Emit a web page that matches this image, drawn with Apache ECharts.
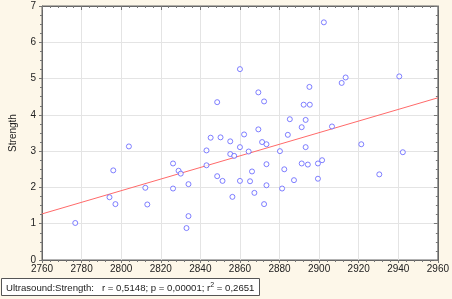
<!DOCTYPE html>
<html><head><meta charset="utf-8">
<script src="https://cdn.jsdelivr.net/npm/echarts@6/dist/echarts.min.js"></script>
<style>html,body{margin:0;padding:0;background:#fdf7e9;}#c{width:452px;height:299px;}</style>
</head><body><div id="c"></div>
<script>
const ultrasound = [2776.8,2794.1,2796.0,2797.1,2803.9,2812.2,2813.2,2826.2,2829.0,2830.1,2826.2,2834.0,2834.0,2833.0,
  2845.2,2850.2,2855.1,2862.1,2869.3,2860.0,2871.2,2873.4,2843.1,2855.1,2857.1,2864.4,2880.2,2884.2,2891.2,2893.2,
  2843.1,2873.4,2866.1,2848.5,2851.2,2860.0,2865.1,2873.4,2882.4,2891.2,2894.3,2887.3,2881.3,2867.3,2856.2,2872.2,
  2906.5,2921.3,2942.3,2899.4,2901.5,2899.4,2930.4,2860.0,2869.3,2848.5,2872.2,2895.1,2892.2,2895.3,2885.2,2893.2,
  2902.4,2913.4,2911.4,2940.5];
const strength = [1.02,1.73,2.47,1.54,3.13,1.99,1.53,2.66,2.46,2.38,1.97,2.09,1.21,0.88,
  3.37,3.38,3.27,3.46,3.60,3.11,3.25,3.19,3.02,2.92,2.87,2.99,3.00,3.45,3.66,3.11,
  2.61,2.64,2.44,2.31,2.18,2.18,2.17,2.06,2.50,2.66,2.63,2.20,1.97,1.85,1.74,1.54,
  3.68,3.19,2.97,2.66,2.75,2.24,2.36,5.26,4.62,4.35,4.37,4.77,4.28,4.28,3.88,3.86,
  6.55,5.03,4.88,5.06];
const fitX = [2760, 2960];
const fitY = [1.27, 4.47];
const xTicks = {min: 2760, max: 2960, step: 20};
const yTicks = {min: 0, max: 7, step: 1};
const statsLabel = 'Ultrasound:Strength:   r = 0,5148; p = 0,00001; r{sup|2} = 0,2651';

const pts = ultrasound.map((x, i) => [x, strength[i]]);
const fitLine = fitX.map((x, i) => [x, fitY[i]]);

const chart = echarts.init(document.getElementById('c'), null, {renderer: 'canvas'});
const FF = 'Liberation Sans, Arial, sans-serif';
const lblFont = {fontFamily: FF, fontSize: 10, color: '#222'};
const baseX = {
  type: 'value', min: xTicks.min, max: xTicks.max, interval: xTicks.step,
  axisLine: {show: true, onZero: false, lineStyle: {color: '#666'}},
  splitLine: {show: true, lineStyle: {color: '#e4e4e4'}},
  minorTick: {show: true, splitNumber: 5, length: 2, lineStyle: {color: '#777'}},
};
const baseY = {
  type: 'value', min: yTicks.min, max: yTicks.max, interval: yTicks.step,
  axisLine: {show: true, onZero: false, lineStyle: {color: '#666'}},
  splitLine: {show: true, lineStyle: {color: '#e4e4e4'}},
  minorTick: {show: true, splitNumber: 4, length: 2, lineStyle: {color: '#777'}},
};
chart.setOption({
  backgroundColor: '#fdf7e9',
  animation: false,
  grid: {left: 31, right: 10, top: 6, bottom: 39, show: true, backgroundColor: '#ffffff', borderColor: '#666', borderWidth: 1},
  title: {
    text: statsLabel, left: 1, top: 278,
    padding: [4, 5, 3, 5],
    borderColor: '#555', borderWidth: 1, backgroundColor: '#ffffff',
    textStyle: {fontFamily: FF, fontSize: 9.6, fontWeight: 'normal', color: '#222',
      rich: {sup: {fontSize: 7, verticalAlign: 'top', padding: [0, 0, 5, 0], color: '#222', fontFamily: FF}}}
  },
  xAxis: [
    Object.assign({}, baseX, {position: 'bottom',
      axisTick: {show: true, inside: false, length: 3, lineStyle: {color: '#777'}},
      axisLabel: Object.assign({margin: 4, formatter: v => String(v)}, lblFont)}),
    Object.assign({}, baseX, {position: 'top', splitLine: {show: false},
      axisTick: {show: true, inside: true, length: 4, lineStyle: {color: '#777'}},
      minorTick: {show: true, splitNumber: 5, length: 2, lineStyle: {color: '#777'}},
      axisLabel: {show: false}})
  ],
  yAxis: [
    Object.assign({}, baseY, {position: 'left', name: 'Strength', nameLocation: 'middle', nameGap: 24,
      nameTextStyle: {fontFamily: FF, fontSize: 10, color: '#222'},
      axisTick: {show: true, inside: false, length: 3, lineStyle: {color: '#777'}},
      axisLabel: Object.assign({margin: 6}, lblFont)}),
    Object.assign({}, baseY, {position: 'right', splitLine: {show: false},
      axisTick: {show: true, inside: true, length: 4, lineStyle: {color: '#777'}},
      minorTick: {show: true, splitNumber: 4, length: 2, lineStyle: {color: '#777'}},
      axisLabel: {show: false}})
  ],
  series: [
    {type: 'line', data: fitLine, symbol: 'none', lineStyle: {color: '#ff6a6a', width: 1}, z: 2},
    {type: 'scatter', data: pts, symbol: 'circle', symbolSize: 5,
      itemStyle: {color: '#ffffff', borderColor: '#6060ff', borderWidth: 1}, z: 3}
  ]
});
</script></body></html>
